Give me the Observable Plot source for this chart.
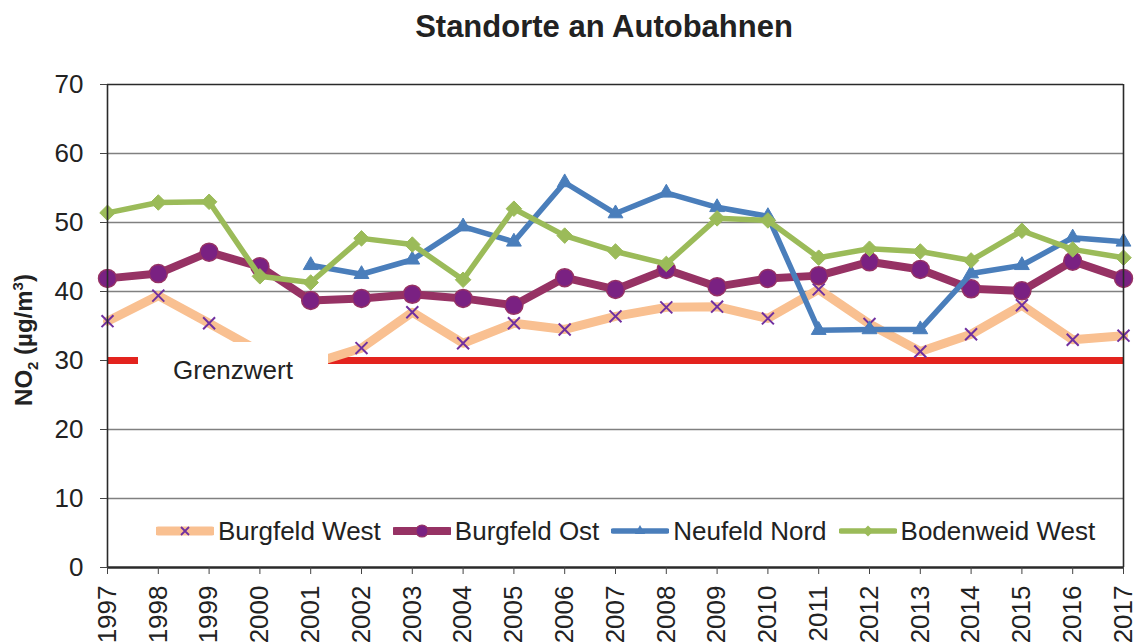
<!DOCTYPE html>
<html>
<head>
<meta charset="utf-8">
<script src="https://cdn.jsdelivr.net/npm/d3@7"></script>
<script src="https://cdn.jsdelivr.net/npm/@observablehq/plot@0.6"></script>
<style>
  html, body { margin: 0; padding: 0; background: #fff; }
  #wrap { position: relative; width: 1137px; height: 643px; font-family: "Liberation Sans", Arial, sans-serif; color: #222; }
  #chart { position: absolute; left: 0; top: 0; }
  #title { position: absolute; left: 604px; top: 9px; transform: translateX(-50%); font-weight: bold; font-size: 31px; line-height: 36px; white-space: nowrap; }
  #ylabel { position: absolute; left: 25px; top: 340px; transform: translate(-50%, -50%) rotate(-90deg); font-weight: bold; font-size: 24px; white-space: nowrap; }
  #ylabel sub, #ylabel sup { font-size: 15px; }
  #grenz { position: absolute; left: 138px; top: 342px; width: 190px; height: 56px; background: #fff; display: flex; align-items: center; justify-content: center; font-size: 26px; }
  #legend { position: absolute; left: 156px; top: 516px; height: 30px; display: flex; align-items: center; font-size: 26px; }
  .item { display: flex; align-items: center; margin-right: 12px; }
  .item svg { margin-right: 4px; }
</style>
</head>
<body>
<div id="wrap">
  <div id="chart"></div>
  <div id="title">Standorte an Autobahnen</div>
  <div id="ylabel">NO<sub>2</sub> (µg/m<sup>3</sup>)</div>
  <div id="grenz"></div>
  <div id="legend"></div>
</div>
<script>
const years = [1997, 1998, 1999, 2000, 2001, 2002, 2003, 2004, 2005, 2006, 2007, 2008, 2009, 2010, 2011, 2012, 2013, 2014, 2015, 2016, 2017];
const burgfeldWest = [35.7, 39.4, 35.4, 31.3, 29.5, 31.8, 37.0, 32.5, 35.4, 34.5, 36.4, 37.7, 37.8, 36.1, 40.3, 35.3, 31.3, 33.8, 38.0, 33.0, 33.6];
const burgfeldOst = [41.9, 42.6, 45.7, 43.6, 38.7, 39.0, 39.6, 39.0, 38.0, 42.0, 40.3, 43.2, 40.7, 41.9, 42.3, 44.3, 43.2, 40.4, 40.1, 44.4, 41.9];
const neufeldNord = [null, null, null, null, 43.8, 42.5, 44.6, 49.4, 47.2, 55.8, 51.3, 54.3, 52.2, 50.9, 34.4, 34.5, 34.5, 42.6, 43.8, 47.8, 47.2];
const bodenweidWest = [51.4, 52.9, 53.0, 42.2, 41.3, 47.7, 46.8, 41.7, 52.0, 48.1, 45.8, 44.0, 50.6, 50.3, 44.9, 46.2, 45.8, 44.5, 48.8, 46.1, 44.9];
const grenzwert = 30;
const grenzwertLabel = "Grenzwert";
const yTicks = [0, 10, 20, 30, 40, 50, 60, 70];
const seriesNames = ["Burgfeld West", "Burgfeld Ost", "Neufeld Nord", "Bodenweid West"];
const titleText = "Standorte an Autobahnen";

const toRows = (vals) => years.map((y, i) => ({year: y, value: vals[i]})).filter(d => d.value != null);
const bw = toRows(burgfeldWest), bo = toRows(burgfeldOst), nn = toRows(neufeldNord), bdw = toRows(bodenweidWest);

const C = {
  peach: "#F9C091", xmark: "#7030A0",
  ostLine: "#963264", ostFill: "#7A2182",
  blue: "#4A7EBB", green: "#9BBB59", red: "#E3231E"
};

const chart = Plot.plot({
  width: 1137, height: 643,
  marginTop: 84, marginBottom: 76, marginLeft: 107, marginRight: 14,
  style: {fontFamily: "'Liberation Sans', Arial, sans-serif", fontSize: "26px", color: "#222", background: "transparent", overflow: "visible"},
  x: {domain: [years[0], years[years.length - 1]]},
  y: {domain: [yTicks[0], yTicks[yTicks.length - 1]]},
  marks: [
    Plot.gridY(yTicks.slice(1, -1), {stroke: "#808080", strokeOpacity: 1, strokeWidth: 1.3}),
    Plot.ruleY([grenzwert], {stroke: C.red, strokeWidth: 7}),
    Plot.line(bw, {x: "year", y: "value", stroke: C.peach, strokeWidth: 9}),
    Plot.dot(bw, {x: "year", y: "value", symbol: "times", r: 5.5, stroke: C.xmark, strokeWidth: 2}),
    Plot.line(bo, {x: "year", y: "value", stroke: C.ostLine, strokeWidth: 8}),
    Plot.dot(bo, {x: "year", y: "value", r: 9, fill: C.ostFill, stroke: C.ostLine, strokeWidth: 1.5}),
    Plot.line(nn, {x: "year", y: "value", stroke: C.blue, strokeWidth: 5.5}),
    Plot.dot(nn, {x: "year", y: "value", symbol: "triangle", r: 5.5, fill: C.blue, stroke: C.blue, strokeWidth: 1}),
    Plot.line(bdw, {x: "year", y: "value", stroke: C.green, strokeWidth: 5.5}),
    Plot.dot(bdw, {x: "year", y: "value", symbol: "diamond2", r: 7, fill: C.green, stroke: C.green, strokeWidth: 1}),
    Plot.ruleY([yTicks[yTicks.length - 1]], {stroke: "#2a2a2a", strokeWidth: 1.6}),
    Plot.ruleX([years[years.length - 1]], {stroke: "#2a2a2a", strokeWidth: 1.6}),
    Plot.ruleX([years[0]], {stroke: "#2a2a2a", strokeWidth: 1.6}),
    Plot.ruleY([yTicks[0]], {stroke: "#2a2a2a", strokeWidth: 2.5}),
    Plot.axisY({ticks: yTicks, tickSize: 7, tickPadding: 17, label: null, fontSize: 26, stroke: "#444"}),
    Plot.axisX({ticks: years, tickSize: 7, tickPadding: 11, tickRotate: -90, tickFormat: d => String(d), label: null, fontSize: 26, stroke: "#444"})
  ]
});
document.getElementById("chart").appendChild(chart);
document.getElementById("title").textContent = titleText;
document.getElementById("grenz").textContent = grenzwertLabel;

const legendSpecs = [
  {line: C.peach, w: 9, marker: `<path d="M-4,-4L4,4M-4,4L4,-4" stroke="${C.xmark}" stroke-width="1.8"/>`},
  {line: C.ostLine, w: 8, marker: `<circle r="6" fill="${C.ostFill}" stroke="${C.ostLine}" stroke-width="1.2"/>`},
  {line: C.blue, w: 5.5, marker: `<path d="M0,-6L5.2,3L-5.2,3Z" fill="${C.blue}"/>`},
  {line: C.green, w: 5.5, marker: `<path d="M0,-5.5L5.5,0L0,5.5L-5.5,0Z" fill="${C.green}"/>`}
];
const leg = document.getElementById("legend");
seriesNames.forEach((name, i) => {
  const s = legendSpecs[i];
  const item = document.createElement("div");
  item.className = "item";
  item.innerHTML = `<svg width="58" height="24" viewBox="0 0 58 24"><line x1="2" y1="12" x2="56" y2="12" stroke="${s.line}" stroke-width="${s.w}" stroke-linecap="round"/><g transform="translate(29,12)">${s.marker}</g></svg><span>${name}</span>`;
  leg.appendChild(item);
});
</script>
</body>
</html>
